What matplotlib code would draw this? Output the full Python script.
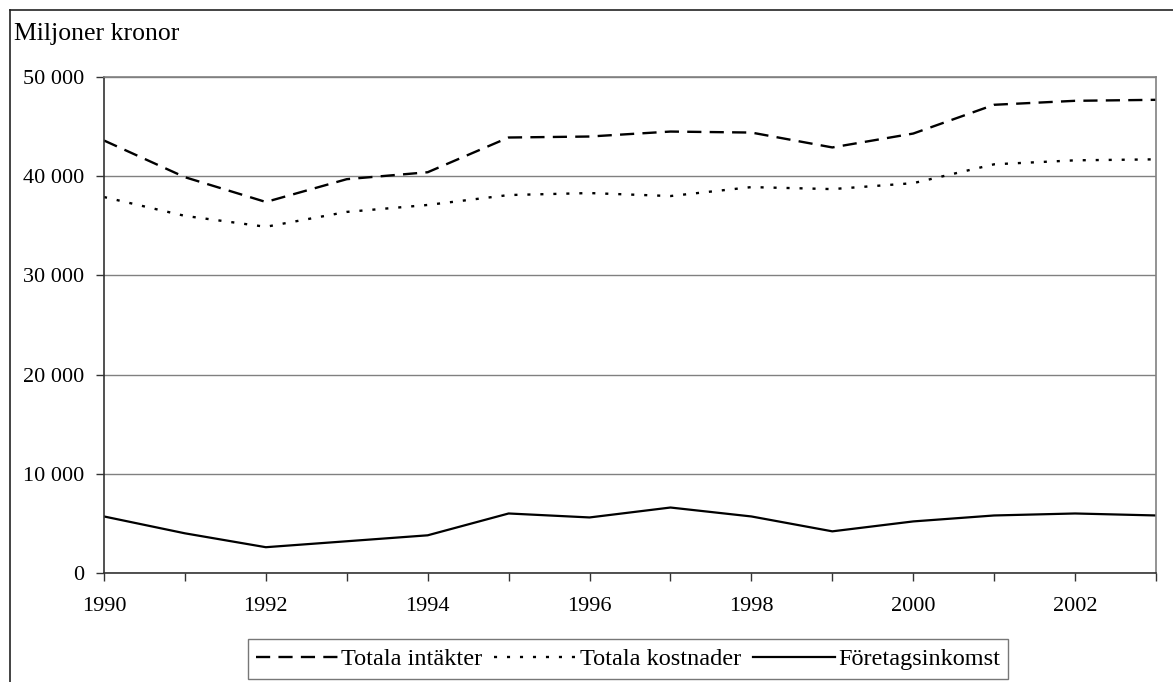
import matplotlib
matplotlib.use("Agg")
import matplotlib.pyplot as plt
from matplotlib.lines import Line2D
from matplotlib.ticker import FuncFormatter, MultipleLocator

# --- data (miljoner kronor) ---
years = [1990, 1991, 1992, 1993, 1994, 1995, 1996, 1997, 1998, 1999, 2000, 2001, 2002, 2003]
intakter = [43600, 39900, 37400, 39700, 40400, 43900, 44000, 44500, 44400, 42900, 44300, 47200, 47600, 47700]
kostnader = [37900, 36000, 34900, 36400, 37100, 38100, 38300, 38000, 38900, 38700, 39300, 41200, 41600, 41700]
foretagsinkomst = [5700, 4000, 2600, 3200, 3800, 6000, 5600, 6600, 5700, 4200, 5200, 5800, 6000, 5800]

plt.rcParams['font.family'] = ['Liberation Serif', 'DejaVu Serif']

W, H = 1173, 682
fig = plt.figure(figsize=(W / 100, H / 100), dpi=100)
ax = fig.add_axes([104 / W, 1 - 573 / H, (1156 - 104) / W, (573 - 77) / H])

ax.plot(years, intakter, color='black', lw=1.7, linestyle=(0, (6, 3.5)), label='Totala intäkter')
ax.plot(years, kostnader, color='black', lw=1.7, linestyle=(0, (1.3, 4.2)), label='Totala kostnader')
ax.plot(years, foretagsinkomst, color='black', lw=1.6, linestyle='-', label='Företagsinkomst')

ax.set_xlim(1990, 2003)
ax.set_ylim(0, 50000)
ax.xaxis.set_major_locator(MultipleLocator(2))
ax.xaxis.set_minor_locator(MultipleLocator(1))
ax.yaxis.set_major_locator(MultipleLocator(10000))
ax.yaxis.set_major_formatter(FuncFormatter(lambda v, p: f"{int(v):,}".replace(",", " ")))

ax.grid(axis='y', color='#808080', lw=1.0)
ax.set_axisbelow(True)
for side in ['top', 'right']:
    ax.spines[side].set_color('#808080')
    ax.spines[side].set_linewidth(1.2)
for side in ['left', 'bottom']:
    ax.spines[side].set_color('#333333')
    ax.spines[side].set_linewidth(1.2)

ax.tick_params(axis='both', which='both', direction='out', length=6, width=1, color='#333333',
               labelsize=16)
ax.tick_params(axis='x', which='major', pad=11)
ax.tick_params(axis='y', pad=8)

fig.text(14 / W, 1 - 34 / H, 'Miljoner kronor', fontsize=18.5, va='center', ha='left')

# outer chart frame
fig.add_artist(Line2D([10 / W, 10 / W], [0, 1 - 10 / H], color='#222222', lw=1.2))
fig.add_artist(Line2D([10 / W, 1], [1 - 10 / H, 1 - 10 / H], color='#222222', lw=1.2))

leg = fig.legend(loc='center', bbox_to_anchor=(628 / W, 1 - 659 / H), ncol=3, fontsize=17.5,
                 frameon=True, fancybox=False, edgecolor='#555555', handlelength=3.4,
                 handletextpad=0.1, columnspacing=0.5, borderpad=0.35)
leg.get_frame().set_linewidth(1.0)

fig.savefig('out.png', dpi=100)
